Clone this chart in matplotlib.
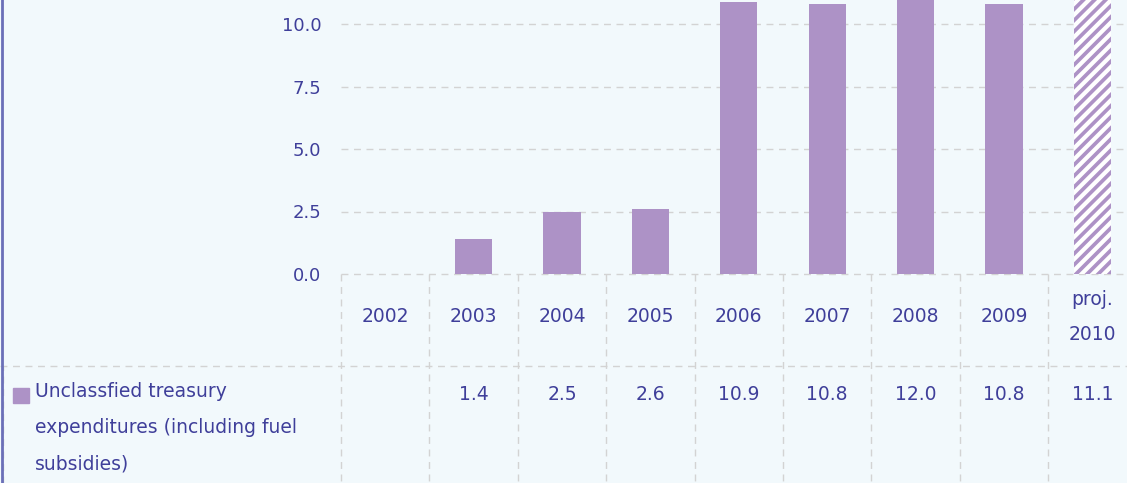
import matplotlib.pyplot as plt
import numpy as np
from matplotlib.lines import Line2D

years = ["2002", "2003", "2004", "2005", "2006", "2007", "2008", "2009", "proj.\n2010"]
values = [np.nan, 1.4, 2.5, 2.6, 10.9, 10.8, 12.0, 10.8, 11.1]
value_labels = ["", "1.4", "2.5", "2.6", "10.9", "10.8", "12.0", "10.8", "11.1"]
projected = [False] * 8 + [True]
series_name = "Unclassfied treasury\nexpenditures (including fuel\nsubsidies)"
yticks = [0.0, 2.5, 5.0, 7.5, 10.0]

bg = "#f2f9fc"
bar_col = "#ad92c6"
txt_col = "#3f3f9a"
grid_col = "#d3d3d3"
dash = (0, (5, 4))

plt.rcParams["font.family"] = ["DejaVu Sans"]
plt.rcParams["hatch.color"] = "white"
plt.rcParams["hatch.linewidth"] = 3

W, H = 1127, 483
fig = plt.figure(figsize=(W / 100, H / 100), dpi=100, facecolor=bg)

# plot area: zero line at 274px from top, columns 88px wide starting at 341px
x0, col_w, zero_y = 341, 88.4, 274
ax = fig.add_axes([x0 / W, (H - zero_y) / H, 9 * col_w / W, zero_y / H])
ax.set_facecolor(bg)
ax.set_xlim(-0.5, 8.5)
ax.set_ylim(0, 10.96)

x = np.arange(len(years))
for i in range(len(years)):
    if np.isnan(values[i]):
        continue
    if projected[i]:
        ax.bar(x[i], values[i], width=0.42, color=bar_col, hatch="///", edgecolor="white", linewidth=0, zorder=3)
    else:
        ax.bar(x[i], values[i], width=0.42, color=bar_col, linewidth=0, zorder=3)

ax.set_yticks(yticks)
ax.set_yticklabels([f"{v:.1f}" for v in yticks], color=txt_col, fontsize=13)
ax.tick_params(axis="y", length=0, pad=14)
ax.set_xticks([])
for v in yticks:
    ax.axhline(v, color=grid_col, linestyle=dash, linewidth=1, zorder=0, clip_on=False)
for s in ax.spines.values():
    s.set_visible(False)

# table below the plot (axes-fraction coordinates below zero)
def yf(px):
    return -px / zero_y

tr = ax.get_xaxis_transform()
row_div = 92  # px below zero line
for i, lab in enumerate(years):
    ax.text(x[i], yf(43), lab, transform=tr, ha="center", va="center", color=txt_col,
            fontsize=13.5, linespacing=2.05, clip_on=False)
    ax.text(x[i], yf(120), value_labels[i], transform=tr, ha="center", va="center", color=txt_col,
            fontsize=13.5, clip_on=False)

# column dividers
for b in np.arange(-0.5, 9.0, 1.0):
    ax.add_line(Line2D([b, b], [0, yf(H - zero_y)], transform=tr, color=grid_col,
                       linestyle=dash, linewidth=1, clip_on=False))

# horizontal divider and left frame of data row (figure pixels)
fig.add_artist(Line2D([0, 1], [(H - zero_y - row_div) / H] * 2, transform=fig.transFigure,
                      color=grid_col, linestyle=dash, linewidth=1))
fig.add_artist(Line2D([3.5 / W] * 2, [0, (H - zero_y - row_div) / H], transform=fig.transFigure,
                      color=grid_col, linestyle=dash, linewidth=1))

# legend swatch and row label
fig.add_artist(plt.Rectangle((13 / W, (H - 403) / H), 16 / W, 15 / H, transform=fig.transFigure,
                             color=bar_col))
fig.text(35 / W, (H - 382) / H, series_name, ha="left", va="top", color=txt_col,
         fontsize=13.5, linespacing=2.15)

# left border
fig.add_artist(Line2D([1.5 / W] * 2, [0, 1], transform=fig.transFigure, color="#6b70b8", linewidth=2))

fig.savefig("out.png", dpi=100, facecolor=bg)
